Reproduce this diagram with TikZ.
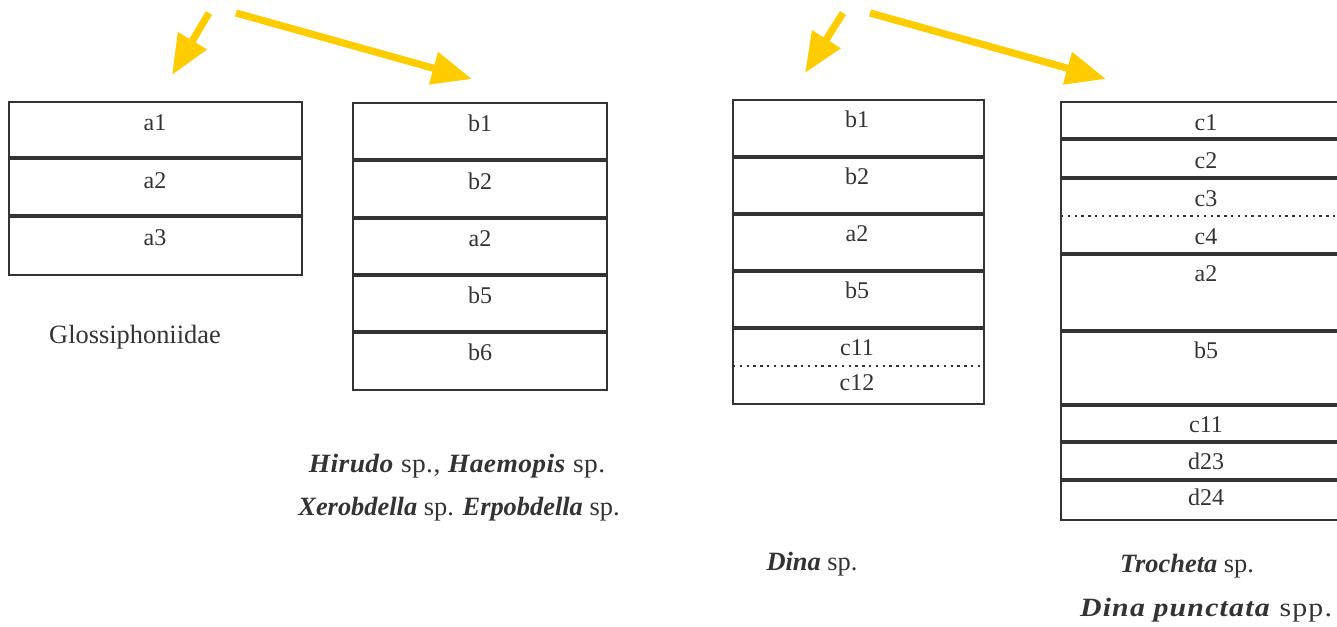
\documentclass[tikz,border=0pt]{standalone}
\usepackage{fontspec}
\setmainfont{Liberation Serif}
\usetikzlibrary{arrows.meta}
\definecolor{arrowyellow}{HTML}{FFCC00}
\definecolor{ink}{HTML}{333333}
\tikzset{
  boxframe/.style={draw=ink, line width=1.1pt},
  divider/.style={draw=ink, line width=1.6pt},
  dotline/.style={draw=ink, line width=0.6pt, dash pattern=on 1.2pt off 2.2pt},
  celltext/.style={anchor=base, inner sep=0pt, text=ink, font=\fontsize{12}{14}\selectfont},
  labeltext/.style={anchor=base, inner sep=0pt, text=ink, font=\fontsize{13.2}{16}\selectfont},
  yarrow/.style={draw=arrowyellow, line width=3.6pt, -{Triangle[length=20pt,width=16pt]}},
}
\begin{document}
\begin{tikzpicture}[x=0.5pt,y=-0.5pt]
\useasboundingbox (0,0) rectangle (1337,626);

% ---- arrows ----
\coordinate (s1) at (209,13);  \coordinate (t1) at (172,75);
\coordinate (s2) at (236,13);  \coordinate (t2) at (472,79);
\coordinate (s3) at (843,13);  \coordinate (t3) at (805,73);
\coordinate (s4) at (870,13);  \coordinate (t4) at (1106,79);
\draw[yarrow] (s1) -- (t1);
\draw[yarrow] (s2) -- (t2);
\draw[yarrow] (s3) -- (t3);
\draw[yarrow] (s4) -- (t4);

% ---- box A ----
\draw[boxframe] (9,102) rectangle (302,275);
\draw[divider] (9,158) -- (302,158);
\draw[divider] (9,216) -- (302,216);
\node[celltext] (a1) at (155,131) {a1};
\node[celltext] (a2) at (155,188) {a2};
\node[celltext] (a3) at (155,245) {a3};
\node[labeltext] (glos) at (135,343) {Glossiphoniidae};

% ---- box B ----
\draw[boxframe] (353,103) rectangle (607,390);
\draw[divider] (353,160) -- (607,160);
\draw[divider] (353,218) -- (607,218);
\draw[divider] (353,275) -- (607,275);
\draw[divider] (353,332) -- (607,332);
\node[celltext] (b1) at (480,132) {b1};
\node[celltext] (b2) at (480,189) {b2};
\node[celltext] (ba2) at (480,246) {a2};
\node[celltext] (b5) at (480,303) {b5};
\node[celltext] (b6) at (480,360) {b6};
\node[labeltext, xscale=1.04] (hir) at (457,472) {\addfontfeature{LetterSpace=1.5}\textbf{\textit{Hirudo}} sp., \textbf{\textit{Haemopis}} sp.};
\node[labeltext] (xer) at (459,515) {\textbf{\textit{Xerobdella}} sp. \textbf{\textit{Erpobdella}} sp.};

% ---- box C ----
\draw[boxframe] (733,100) rectangle (984,404);
\draw[divider] (733,157) -- (984,157);
\draw[divider] (733,214) -- (984,214);
\draw[divider] (733,271) -- (984,271);
\draw[divider] (733,328) -- (984,328);
\draw[dotline] (733,366) -- (984,366);
\node[celltext] (cb1) at (857,127) {b1};
\node[celltext] (cb2) at (857,184) {b2};
\node[celltext] (ca2) at (857,241) {a2};
\node[celltext] (cb5) at (857,298) {b5};
\node[celltext] (cc11) at (857,355) {c11};
\node[celltext] (cc12) at (857,390) {c12};
\node[labeltext] (dina) at (812,570) {\textbf{\textit{Dina}} sp.};

% ---- box D ----
\draw[boxframe] (1061,102) rectangle (1353,520);
\draw[divider] (1061,139) -- (1353,139);
\draw[divider] (1061,178) -- (1353,178);
\draw[dotline] (1061,216) -- (1353,216);
\draw[divider] (1061,254) -- (1353,254);
\draw[divider] (1061,331) -- (1353,331);
\draw[divider] (1061,405) -- (1353,405);
\draw[divider] (1061,442) -- (1353,442);
\draw[divider] (1061,480) -- (1353,480);
\node[celltext] (dc1) at (1206,131) {c1};
\node[celltext] (dc2) at (1206,168) {c2};
\node[celltext] (dc3) at (1206,206) {c3};
\node[celltext] (dc4) at (1206,244) {c4};
\node[celltext] (da2) at (1206,281) {a2};
\node[celltext] (db5) at (1206,358) {b5};
\node[celltext] (dc11) at (1206,432) {c11};
\node[celltext] (dd23) at (1206,469) {d23};
\node[celltext] (dd24) at (1206,505) {d24};
\node[labeltext] (troc) at (1187,572) {\textbf{\textit{Trocheta}} sp.};
\node[labeltext, xscale=1.13] (dpun) at (1206,616) {\addfontfeature{LetterSpace=4}\textbf{\textit{Dina punctata}} spp.};
\end{tikzpicture}
\end{document}
